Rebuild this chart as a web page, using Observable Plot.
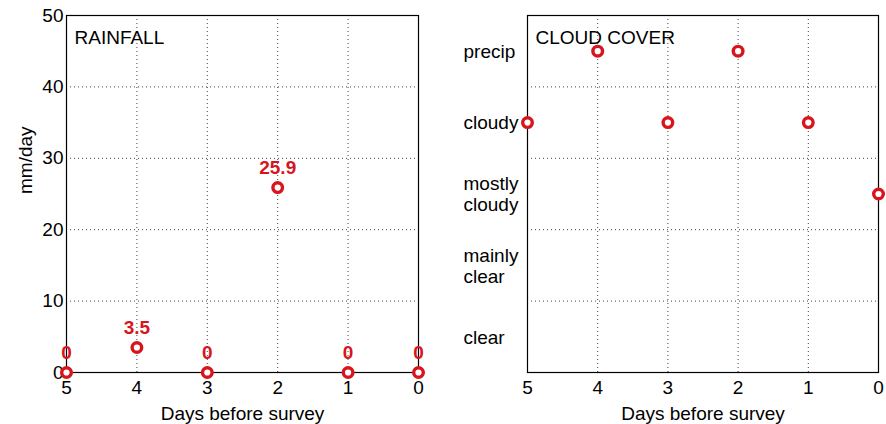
<!DOCTYPE html>
<html>
<head>
<meta charset="utf-8">
<script src="https://cdn.jsdelivr.net/npm/d3@7"></script>
<script src="https://cdn.jsdelivr.net/npm/@observablehq/plot@0.6"></script>
<style>
  html, body { margin: 0; padding: 0; background: white; }
  #row { display: flex; flex-direction: row; width: 886px; height: 424px; }
  svg { overflow: visible; }
</style>
</head>
<body>
<div id="row"></div>
<script>
// ---- data ----
const days = [5, 4, 3, 2, 1, 0];
const rainfall = [0, 3.5, 0, 25.9, 0, 0];
const cloudCover = ["cloudy", "precip", "cloudy", "precip", "cloudy", "mostly cloudy"];
const cloudCategories = ["clear", "mainly clear", "mostly cloudy", "cloudy", "precip"];
const cloudLabels = ["clear", "mainly\nclear", "mostly\ncloudy", "cloudy", "precip"];
const dayTicks = [5, 4, 3, 2, 1, 0];
const rainTicks = [0, 10, 20, 30, 40, 50];
const xLabel = "Days before survey";
const yLabel = "mm/day";

const RED = "#d8141c";
const FONT = "'Liberation Sans', Arial, sans-serif";
const FS = 19;
const gridStyle = {stroke: "#444", strokeOpacity: 1, strokeDasharray: "1,3", strokeWidth: 1};

const rainData = days.map((d, i) => ({day: d, value: rainfall[i]}));
const cloudData = days.map((d, i) => ({day: d, level: cloudCategories.indexOf(cloudCover[i]) + 1}));
const catData = cloudLabels.map((l, i) => ({level: i + 1, label: l}));

const common = {
  height: 424,
  marginTop: 15,
  marginBottom: 52,
  style: {fontFamily: FONT, fontSize: FS + "px", color: "black", background: "white", overflow: "visible"}
};

const left = Plot.plot({
  ...common,
  width: 440,
  marginLeft: 66,
  marginRight: 22,
  x: {domain: [5, 0], ticks: dayTicks},
  y: {domain: [0, 50], ticks: rainTicks},
  marks: [
    Plot.gridX(dayTicks.slice(1, -1), gridStyle),
    Plot.gridY(rainTicks.slice(1, -1), gridStyle),
    Plot.frame({stroke: "black", strokeWidth: 1.2}),
    Plot.axisX({ticks: dayTicks, tickSize: 0, tickPadding: 8, label: null, fontSize: FS, tickFormat: d => String(d)}),
    Plot.axisY({ticks: rainTicks, tickSize: 0, tickPadding: 3, label: null, fontSize: FS, tickFormat: d => String(d)}),
    Plot.text([xLabel], {text: d => d, frameAnchor: "bottom", lineAnchor: "middle", dy: 41, fontSize: FS}),
    Plot.text([yLabel], {text: d => d, frameAnchor: "left", lineAnchor: "middle", rotate: -90, dx: -41, fontSize: FS}),
    Plot.text(["RAINFALL"], {text: d => d, frameAnchor: "top-left", textAnchor: "start", lineAnchor: "middle", dx: 8, dy: 22, fontSize: FS}),
    Plot.dot(rainData, {x: "day", y: "value", r: 4.8, stroke: RED, strokeWidth: 3.4, fill: "white"}),
    Plot.text(rainData, {x: "day", y: "value", text: d => String(d.value), dy: -20, fill: RED, fontWeight: "bold", fontSize: FS})
  ]
});

const right = Plot.plot({
  ...common,
  width: 446,
  marginLeft: 87,
  marginRight: 8,
  x: {domain: [5, 0], ticks: dayTicks},
  y: {domain: [0.5, 5.5], axis: null},
  marks: [
    Plot.gridX(dayTicks.slice(1, -1), gridStyle),
    Plot.gridY([1.5, 2.5, 3.5, 4.5], gridStyle),
    Plot.frame({stroke: "black", strokeWidth: 1.2}),
    Plot.axisX({ticks: dayTicks, tickSize: 0, tickPadding: 8, label: null, fontSize: FS, tickFormat: d => String(d)}),
    Plot.text(catData, {y: "level", text: "label", frameAnchor: "left", textAnchor: "start", lineAnchor: "middle", lineHeight: 1.1, dx: -64, fontSize: FS}),
    Plot.text([xLabel], {text: d => d, frameAnchor: "bottom", lineAnchor: "middle", dy: 41, fontSize: FS}),
    Plot.text(["CLOUD COVER"], {text: d => d, frameAnchor: "top-left", textAnchor: "start", lineAnchor: "middle", dx: 8, dy: 22, fontSize: FS}),
    Plot.dot(cloudData, {x: "day", y: "level", r: 4.8, stroke: RED, strokeWidth: 3.4, fill: "white"})
  ]
});

const row = document.getElementById("row");
row.appendChild(left);
row.appendChild(right);
</script>
</body>
</html>
